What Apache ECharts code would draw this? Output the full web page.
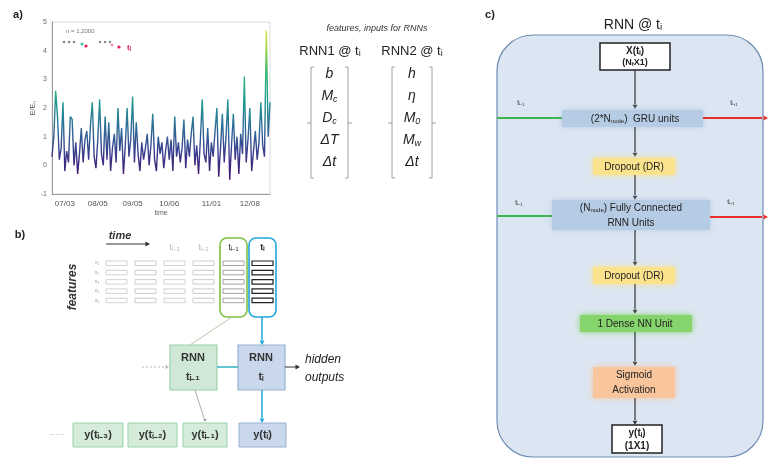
<!DOCTYPE html>
<html><head><meta charset="utf-8">
<script src="https://cdn.jsdelivr.net/npm/echarts@6/dist/echarts.min.js"></script>
<style>html,body{margin:0;padding:0;background:#fff}#c{width:771px;height:464px}</style>
</head><body><div id="c"></div>
<script>
// ---- data ----
const energyRatio = [0.3,1.0,2.6,1.7,0.2,0.6,2.2,-0.2,0.5,0.1,1.7,1.6,0.0,0.8,-0.3,0.4,1.3,0.1,0.9,1.2,
  0.2,1.4,2.2,0.3,-0.1,0.9,2.3,0.4,0.0,1.7,0.2,1.5,-0.2,0.6,1.1,0.1,2.0,0.5,1.3,-0.3,
  0.7,2.0,0.3,0.9,2.4,0.1,1.5,0.4,-0.2,0.8,0.2,0.6,1.1,0.0,0.7,1.8,0.2,-0.2,1.0,0.4,
  0.8,-0.1,0.5,1.0,0.2,0.9,-0.2,1.7,0.3,0.8,0.1,0.6,1.6,-0.1,0.9,0.3,1.1,1.7,0.0,0.7,
  -0.3,0.9,2.3,0.4,0.1,1.3,-0.2,0.8,0.3,1.2,2.0,-0.4,0.6,1.8,0.1,1.0,2.3,-0.5,0.7,1.8,
  0.2,1.0,-0.3,1.1,0.4,3.1,0.1,0.9,2.0,-0.2,0.5,1.2,0.2,0.8,2.2,0.7,0.3,4.7,1.0,2.2];
const dateTicks = ['07/03','08/05','09/05','10/06','11/01','12/08'];
const dateTickIndex = [7,25,44,64,87,108];
const yTicks = [-1,0,1,2,3,4,5];
const rnn1Features = [['b',''],['M','c'],['D','c'],['ΔT',''],['Δt','']];
const rnn2Features = [['h',''],['η',''],['M','0'],['M','w'],['Δt','']];
const outputLabels = ['y(tᵢ₋₃)','y(tᵢ₋₂)','y(tᵢ₋₁)','y(tᵢ)'];
const timeHeaders = ['','','tᵢ₋₃','tᵢ₋₂','tᵢ₋₁','tᵢ'];

const FF = '"Liberation Sans", Arial, sans-serif';
const chart = echarts.init(document.getElementById('c'));
const G = [];
function rect(x,y,w,h,fill,stroke,lw,r,extra){const o={type:'rect',shape:{x:x,y:y,width:w,height:h,r:r||0},style:Object.assign({fill:fill,stroke:stroke,lineWidth:lw||1},extra||{})};G.push(o);return o;}
function line(x1,y1,x2,y2,stroke,lw,dash){G.push({type:'line',shape:{x1:x1,y1:y1,x2:x2,y2:y2},style:{stroke:stroke,lineWidth:lw||1,lineDash:dash||null}});}
function arrowD(x,y,c,s){s=s||3;G.push({type:'polygon',shape:{points:[[x-s,y-s*1.8],[x+s,y-s*1.8],[x,y]]},style:{fill:c}});}
function arrowR(x,y,c,s){s=s||3;G.push({type:'polygon',shape:{points:[[x-s*1.8,y-s],[x-s*1.8,y+s],[x,y]]},style:{fill:c}});}
function text(x,y,t,size,opt){opt=opt||{};G.push({type:'text',rotation:opt.rotation||0,x:opt.rotation?x:0,y:opt.rotation?y:0,
  style:{x:opt.rotation?0:x,y:opt.rotation?0:y,text:t,fontSize:size,fontFamily:FF,fontWeight:opt.bold?'bold':'normal',fontStyle:opt.italic?'italic':'normal',
  fill:opt.color||'#222',align:opt.align||'center',verticalAlign:opt.va||'middle',rich:opt.rich,lineHeight:opt.lh}});}
const SUB = {fontSize:6,fontFamily:FF,fill:'#222',verticalAlign:'bottom',lineHeight:8};
const SUBB = {fontSize:6,fontFamily:FF,fontWeight:'bold',fill:'#222',verticalAlign:'bottom',lineHeight:8};

// ---------- panel labels ----------
text(18,15,'a)',11,{bold:true});
text(20,235,'b)',11,{bold:true});
text(490,15,'c)',11,{bold:true});

// ---------- panel a inset legend ----------
text(66,31,'n = 1,2000',6,{align:'left',color:'#777'});
[64,69,74].forEach(function(x){G.push({type:'circle',shape:{cx:x,cy:42,r:1.3},style:{fill:'#888'}});});
G.push({type:'circle',shape:{cx:82,cy:44,r:1.5},style:{fill:'#3cc0a8'}});
G.push({type:'circle',shape:{cx:86,cy:46,r:1.6},style:{fill:'#e0204f'}});
[100,105,110].forEach(function(x){G.push({type:'circle',shape:{cx:x,cy:42,r:1.2},style:{fill:'#888'}});});
G.push({type:'circle',shape:{cx:112,cy:45,r:1.5},style:{fill:'#f0a0b0'}});
G.push({type:'circle',shape:{cx:119,cy:47,r:1.6},style:{fill:'#e0204f'}});
text(129,48,'tᵢ',8,{color:'#e0204f',bold:true});

// ---------- features vectors ----------
text(377,28,'features, inputs for RNNs',9,{italic:true,color:'#333'});
text(330,51,'RNN1 @ tᵢ',13,{color:'#222'});
text(412,51,'RNN2 @ tᵢ',13,{color:'#222'});
function bracketVec(xl,xr,items){
  const top=67,bot=178,c='#888';
  line(xl,top,xl,bot,c,0.8);line(xl,top,xl+3,top,c,0.8);line(xl,bot,xl+3,bot,c,0.8);
  line(xr,top,xr,bot,c,0.8);line(xr,top,xr-3,top,c,0.8);line(xr,bot,xr-3,bot,c,0.8);
  line(xl-4,123,xl,123,c,0.8);line(xr,123,xr+4,123,c,0.8);
  const cx=(xl+xr)/2;
  items.forEach(function(it,i){
    const t = it[1] ? '{m|'+it[0]+'}{s|'+it[1]+'}' : '{m|'+it[0]+'}';
    text(cx,73+i*22,t,14,{rich:{m:{fontSize:14,fontStyle:'italic',fontFamily:FF,fill:'#222',lineHeight:17,verticalAlign:'bottom'},
      s:{fontSize:9,fontStyle:'italic',fontFamily:FF,fill:'#222',lineHeight:10,verticalAlign:'bottom'}}});
  });
}
bracketVec(311,348,rnn1Features);
bracketVec(392,432,rnn2Features);

// ---------- panel b ----------
text(120,236,'time',11,{italic:true,bold:true,color:'#333'});
line(106,244,146,244,'#333',1);arrowR(150,244,'#333',2.5);
text(73,287,'features',12,{italic:true,bold:true,color:'#333',rotation:Math.PI/2});
['x₁','x₂','x₃','x₄','x₅'].forEach(function(t,i){text(97,263+i*9.3,t,5,{color:'#999'});});
rect(220,238,27,79,'none','#7cc142',1.6,7);
rect(249,238,27,79,'none','#1ea7dc',1.6,7);
const colX=[106,135,164,193,223,252];
const colStroke=['#c8c8c8','#c0c0c0','#c8c8c8','#c0c0c0','#8a8a8a','#222'];
colX.forEach(function(x,ci){
  for(let r=0;r<5;r++){rect(x,261+r*9.3,21,4.5,'#fff',colStroke[ci],ci===5?1.2:0.8);}
  if(timeHeaders[ci]) text(x+10.5,248,timeHeaders[ci],9,{color:ci>=4?'#222':'#bbb',bold:ci===5});
});
rect(170,345,47,45,'#cfe9d6','#9bd3ab',1.2);
rect(238,345,47,45,'#c9d8ec','#96b1d4',1.2);
text(193,358,'RNN',11,{bold:true,color:'#333'});
text(193,377,'tᵢ₋₁',11,{bold:true,color:'#333'});
text(261,358,'RNN',11,{bold:true,color:'#333'});
text(261,377,'tᵢ',11,{bold:true,color:'#333'});
line(142,367,166,367,'#bbb',1,[2,2]);arrowR(169,367,'#bbb',2);
line(217,367,238,367,'#2bb3c0',1.5);
line(285,367,296,367,'#333',1);arrowR(300,367,'#333',2.5);
text(305,360,'hidden',12,{italic:true,align:'left',color:'#222'});
text(305,378,'outputs',12,{italic:true,align:'left',color:'#222'});
line(262,317,262,340,'#1ea7dc',1.5);arrowD(262,345,'#1ea7dc',2.5);
line(262,390,262,418,'#1ea7dc',1.5);arrowD(262,423,'#1ea7dc',2.5);
line(232,317,190,345,'#b7c9a8',1);
line(195,390,204,418,'#999',0.8);arrowD(205,422,'#999',1.8);
const outX=[73,128,183,239],outW=[50,49,44,47];
outputLabels.forEach(function(t,i){
  rect(outX[i],423,outW[i],24,i===3?'#c9d8ec':'#d4ecd9',i===3?'#96b1d4':'#9bd3ab',1);
  text(outX[i]+outW[i]/2,435,t,11,{bold:true,color:'#333'});
});
text(57,435,'·····',9,{color:'#aaa'});

// ---------- panel c ----------
text(633,25,'RNN @ tᵢ',14,{color:'#222'});
rect(497,35,266,422,'#dce6f2','#6f8db3',1.2,36);
function block(x,y,w,h,fill,extra){rect(x,y,w,h,fill,'none',0,0,Object.assign({shadowBlur:6,shadowColor:fill},extra||{}));}
rect(600,43,70,27,'#fff','#222',1.5);
text(635,51,'{u|X}(tᵢ)',10,{bold:true,rich:{u:{fontSize:10,fontWeight:'bold',fontFamily:FF,fill:'#222',textDecoration:'underline'}}});
text(635,63,'(N{s|f}X1)',9,{bold:true,rich:{s:SUBB}});
line(635,70,635,104,'#333',1.2);arrowD(635,109,'#333',2.3);
block(562,110,141,17,'#b6cbe4');
text(635,119,'(2*N{s|node})  GRU units',10,{color:'#222',rich:{s:SUB}});
line(497,118,562,118,'#3cb54a',2);text(521,103,'tᵢ₋₁',7,{color:'#333'});
line(703,118,762,118,'#e8302a',2);arrowR(768,118,'#e8302a',2.5);text(734,103,'tᵢ₊₁',7,{color:'#333'});
line(635,127,635,152,'#333',1.2);arrowD(635,157,'#333',2.3);
block(593,158,82,17,'#fbe38e');
text(634,167,'Dropout (DR)',10,{color:'#222'});
line(635,175,635,195,'#333',1.2);arrowD(635,200,'#333',2.3);
block(552,200,158,30,'#b6cbe4');
text(631,208,'(N{s|node}) Fully Connected',10,{color:'#222',rich:{s:SUB}});
text(631,223,'RNN Units',10,{color:'#222'});
line(497,216,552,216,'#3cb54a',2);text(519,203,'tᵢ₋₁',7,{color:'#333'});
line(710,217,762,217,'#e8302a',2);arrowR(768,217,'#e8302a',2.5);text(731,202,'tᵢ₊₁',7,{color:'#333'});
line(635,230,635,261,'#333',1.2);arrowD(635,266,'#333',2.3);
block(593,267,82,17,'#fbe38e');
text(634,276,'Dropout (DR)',10,{color:'#222'});
line(635,284,635,309,'#333',1.2);arrowD(635,314,'#333',2.3);
block(580,315,112,17,'#86d46c');
text(635,324,'1 Dense NN Unit',10,{color:'#222'});
line(635,332,635,361,'#333',1.2);arrowD(635,366,'#333',2.3);
block(593,367,82,31,'#f9c59c');
text(634,375,'Sigmoid',10,{color:'#222'});
text(634,390,'Activation',10,{color:'#222'});
line(635,398,635,420,'#333',1.2);arrowD(635,425,'#333',2.3);
rect(612,425,50,28,'#fff','#222',1.5);
text(637,433,'y(tᵢ)',10,{bold:true});
text(637,446,'(1X1)',10,{bold:true});

chart.setOption({
  animation:false,
  backgroundColor:'#fff',
  grid:{left:52,top:22,width:218,height:172,show:true,borderColor:'#ddd',borderWidth:1},
  xAxis:{type:'category',boundaryGap:false,data:energyRatio.map(function(_,i){return i;}),
    name:'time',nameLocation:'middle',nameGap:16,nameTextStyle:{fontSize:7,color:'#666',fontFamily:FF},
    axisLine:{onZero:false,lineStyle:{color:'#999'}},axisTick:{show:false},
    axisLabel:{fontSize:8,color:'#555',fontFamily:FF,margin:6,
      interval:function(i){return dateTickIndex.indexOf(i)>=0;},
      formatter:function(v,i){const k=dateTickIndex.indexOf(Number(v));return k>=0?dateTicks[k]:'';}}},
  yAxis:{type:'value',min:yTicks[0],max:yTicks[yTicks.length-1],interval:1,
    name:'E/Eₙ',nameLocation:'middle',nameGap:12,nameTextStyle:{fontSize:7,color:'#555',fontFamily:FF},
    axisLine:{show:true,lineStyle:{color:'#999'}},axisTick:{show:false},splitLine:{show:false},
    axisLabel:{fontSize:7,color:'#666',fontFamily:FF,margin:5}},
  visualMap:{show:false,type:'continuous',dimension:1,seriesIndex:0,min:-0.5,max:5,
    inRange:{color:['#44106b','#3a3c8c','#2d6c96','#1f9a8f','#38b878','#9fd64a','#f4e73a']}},
  series:[{type:'line',data:energyRatio,showSymbol:false,lineStyle:{width:1.4},z:3}],
  graphic:G
});
</script></body></html>
